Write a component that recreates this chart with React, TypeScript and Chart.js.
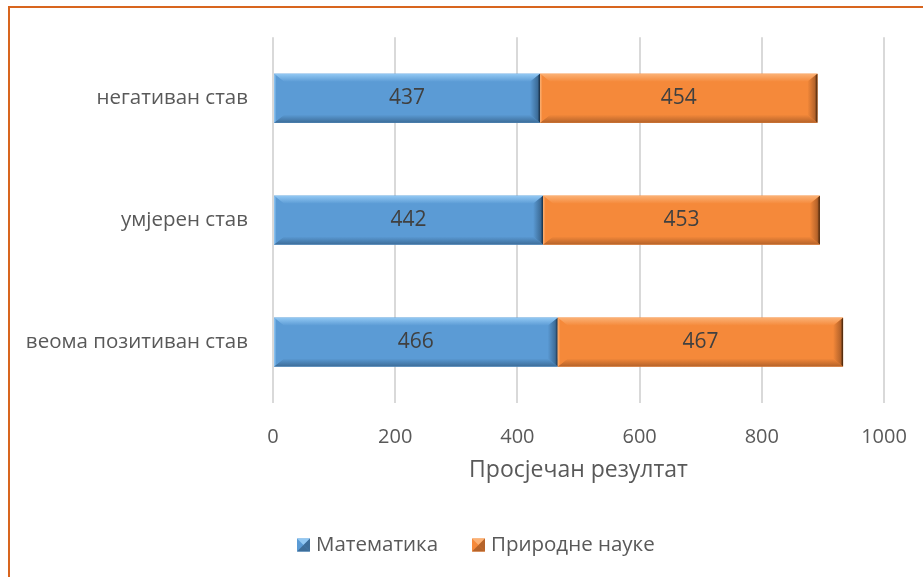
import React, { useEffect, useRef } from "react";
import { Chart, registerables } from "chart.js";

Chart.register(...registerables);

const categories = ["негативан став", "умјерен став", "веома позитиван став"];
const mathValues = [437, 442, 466];
const scienceValues = [454, 453, 467];
const seriesNames = ["Математика", "Природне науке"];
const xTicks = [0, 200, 400, 600, 800, 1000];
const axisTitle = "Просјечан резултат";

const FONT = "'Open Sans', 'DejaVu Sans', sans-serif";

const palettes = [
  { base: "#5B9BD5", light: "#92C8F3", dark: "#3D6D99", edge: "#172A3E" },
  { base: "#F5893A", light: "#FBB175", dark: "#B5632A", edge: "#3A1E08" },
];

const bevelPlugin = {
  id: "bevel",
  afterDatasetsDraw(chart: any) {
    const ctx = chart.ctx;
    chart.data.datasets.forEach((ds: any, di: number) => {
      const meta = chart.getDatasetMeta(di);
      const p = palettes[di];
      meta.data.forEach((bar: any, i: number) => {
        const { x, y, base, height } = bar.getProps(["x", "y", "base", "height"], true);
        const left = Math.min(x, base);
        const right = Math.max(x, base);
        const top = y - height / 2;
        const bottom = y + height / 2;
        const bw = 10;
        const bh = 8;
        ctx.save();
        ctx.fillStyle = p.base;
        ctx.fillRect(left, top, right - left, bottom - top);
        // top bevel
        let g = ctx.createLinearGradient(0, top, 0, top + bh);
        g.addColorStop(0, p.light);
        g.addColorStop(1, p.base);
        ctx.fillStyle = g;
        ctx.beginPath();
        ctx.moveTo(left, top);
        ctx.lineTo(right, top);
        ctx.lineTo(right - bw, top + bh);
        ctx.lineTo(left + bw, top + bh);
        ctx.closePath();
        ctx.fill();
        // bottom bevel
        g = ctx.createLinearGradient(0, bottom - bh, 0, bottom);
        g.addColorStop(0, p.base);
        g.addColorStop(1, p.dark);
        ctx.fillStyle = g;
        ctx.beginPath();
        ctx.moveTo(left, bottom);
        ctx.lineTo(right, bottom);
        ctx.lineTo(right - bw, bottom - bh);
        ctx.lineTo(left + bw, bottom - bh);
        ctx.closePath();
        ctx.fill();
        // left bevel
        g = ctx.createLinearGradient(left, 0, left + bw, 0);
        g.addColorStop(0, p.light);
        g.addColorStop(0.25, p.base);
        g.addColorStop(1, p.base);
        ctx.fillStyle = g;
        ctx.beginPath();
        ctx.moveTo(left, top);
        ctx.lineTo(left + bw, top + bh);
        ctx.lineTo(left + bw, bottom - bh);
        ctx.lineTo(left, bottom);
        ctx.closePath();
        ctx.fill();
        // right bevel
        g = ctx.createLinearGradient(right - bw, 0, right, 0);
        g.addColorStop(0, p.base);
        g.addColorStop(0.75, p.dark);
        g.addColorStop(1, p.edge);
        ctx.fillStyle = g;
        ctx.beginPath();
        ctx.moveTo(right, top);
        ctx.lineTo(right - bw, top + bh);
        ctx.lineTo(right - bw, bottom - bh);
        ctx.lineTo(right, bottom);
        ctx.closePath();
        ctx.fill();
        // value label
        ctx.fillStyle = "#404040";
        ctx.font = `21px ${FONT}`;
        ctx.textAlign = "center";
        ctx.textBaseline = "middle";
        ctx.fillText(String(ds.data[i]), (left + right) / 2, y);
        ctx.restore();
      });
    });
  },
};

const legendPlugin = {
  id: "customLegend",
  afterDraw(chart: any) {
    const ctx = chart.ctx;
    const cy = 545;
    const items = [
      { x: 297, name: seriesNames[0], p: palettes[0] },
      { x: 472, name: seriesNames[1], p: palettes[1] },
    ];
    ctx.save();
    items.forEach((it) => {
      const s = 13;
      const t = cy - s / 2;
      ctx.fillStyle = it.p.base;
      ctx.fillRect(it.x, t, s, s);
      ctx.fillStyle = it.p.light;
      ctx.beginPath();
      ctx.moveTo(it.x, t);
      ctx.lineTo(it.x + s, t);
      ctx.lineTo(it.x + s / 2, t + s / 2);
      ctx.closePath();
      ctx.fill();
      ctx.fillStyle = it.p.dark;
      ctx.beginPath();
      ctx.moveTo(it.x + s, t);
      ctx.lineTo(it.x + s, t + s);
      ctx.lineTo(it.x + s / 2, t + s / 2);
      ctx.closePath();
      ctx.fill();
      ctx.beginPath();
      ctx.moveTo(it.x, t + s);
      ctx.lineTo(it.x + s, t + s);
      ctx.lineTo(it.x + s / 2, t + s / 2);
      ctx.closePath();
      ctx.fill();
      ctx.fillStyle = "#595959";
      ctx.font = `20.5px ${FONT}`;
      ctx.textAlign = "left";
      ctx.textBaseline = "middle";
      ctx.fillText(it.name, it.x + 19, cy);
    });
    ctx.restore();
  },
};

export default function App() {
  const ref = useRef<HTMLCanvasElement | null>(null);
  useEffect(() => {
    if (!ref.current) return;
    const chart = new Chart(ref.current, {
      type: "bar",
      data: {
        labels: categories,
        datasets: [
          { label: seriesNames[0], data: mathValues, backgroundColor: palettes[0].base },
          { label: seriesNames[1], data: scienceValues, backgroundColor: palettes[1].base },
        ],
      },
      options: {
        indexAxis: "y",
        animation: false,
        responsive: false,
        maintainAspectRatio: false,
        layout: { padding: { top: 36, right: 39, left: 0, bottom: 0 } },
        datasets: { bar: { barPercentage: 0.4, categoryPercentage: 1 } },
        plugins: { legend: { display: false }, tooltip: { enabled: false } },
        scales: {
          x: {
            stacked: true,
            min: 0,
            max: 1000,
            afterBuildTicks: (s: any) => {
              s.ticks = xTicks.map((v) => ({ value: v }));
            },
            afterFit: (s: any) => {
              s.height = 174;
              s.paddingLeft = 0;
              s.paddingRight = 0;
            },
            border: { display: false },
            grid: { color: "#D9D9D9", lineWidth: 2, drawTicks: false },
            ticks: {
              color: "#595959",
              font: { family: FONT, size: 20 },
              padding: 22,
              maxRotation: 0,
              callback: (v: any) => String(v),
            },
            title: {
              display: true,
              text: axisTitle,
              color: "#595959",
              font: { family: FONT, size: 23 },
              padding: { top: 0, bottom: 93 },
            },
          },
          y: {
            stacked: true,
            afterFit: (s: any) => {
              s.width = 273;
            },
            border: { display: false },
            grid: { display: false, drawTicks: false },
            ticks: { color: "#595959", font: { family: FONT, size: 20.5 }, padding: 25 },
          },
        },
      },
      plugins: [bevelPlugin, legendPlugin],
    });
    return () => chart.destroy();
  }, []);
  return (
    <div style={{ position: "fixed", left: 0, top: 0, width: 923, height: 577, overflow: "hidden", background: "#fff" }}>
      <div
        style={{
          position: "absolute",
          left: 8,
          top: 6,
          width: 2000,
          height: 2000,
          borderLeft: "2px solid #D8651E",
          borderTop: "2px solid #D8651E",
        }}
      />
      <canvas ref={ref} width={923} height={577} style={{ position: "absolute", left: 0, top: 0, width: 923, height: 577 }} />
    </div>
  );
}
